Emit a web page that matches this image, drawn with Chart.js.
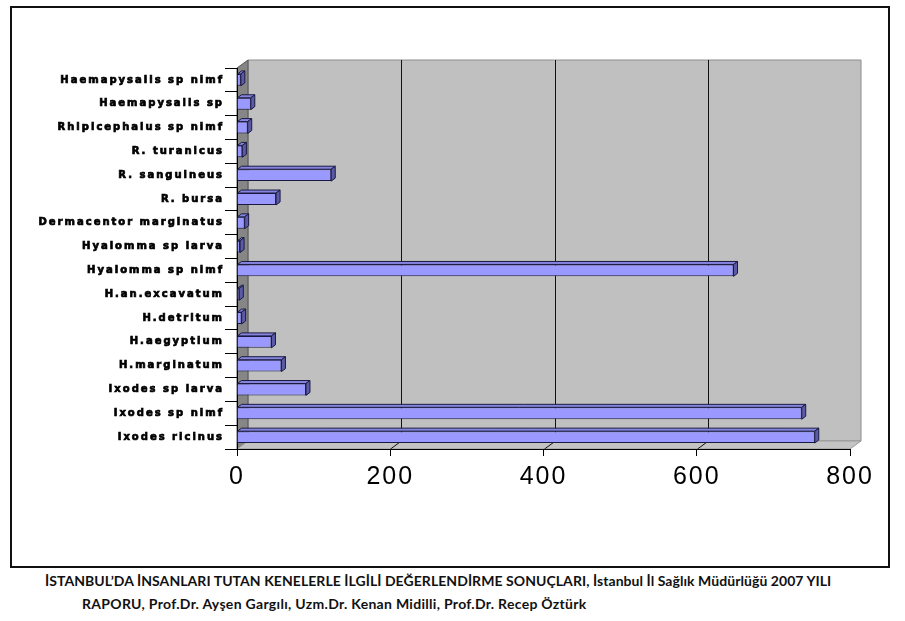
<!DOCTYPE html>
<html>
<head>
<meta charset="utf-8">
<script src="https://cdn.jsdelivr.net/npm/chart.js@4.4.1/dist/chart.umd.min.js"></script>
<style>
  html, body { margin:0; padding:0; background:#fff; }
  body { width:905px; height:621px; position:relative; overflow:hidden; }
  #frame { position:absolute; left:10px; top:6px; width:876px; height:558px; border:2px solid #111; }
  #frame canvas { display:block; }
  .cap { position:absolute; font-family:Lato, 'Open Sans', sans-serif; font-weight:bold; font-size:14px; color:#111; white-space:nowrap; line-height:23px; }
  #cap1 { left:45px; top:569px; letter-spacing:0.06px; }
  #cap2 { left:82px; top:592px; letter-spacing:0.3px; }
</style>
</head>
<body>
<div id="frame"><canvas id="tickChart" width="876" height="558"></canvas></div>
<div class="cap" id="cap1">İSTANBUL’DA İNSANLARI TUTAN KENELERLE İLGİLİ DEĞERLENDİRME SONUÇLARI, İstanbul İl Sağlık Müdürlüğü 2007 YILI</div>
<div class="cap" id="cap2">RAPORU, Prof.Dr. Ayşen Gargılı, Uzm.Dr. Kenan Midilli, Prof.Dr. Recep Öztürk</div>

<script>
/* tick species counts - 3d style horizontal bars */

const SPECIES = [
  'Haemapysalis sp nimf',
  'Haemapysalis sp',
  'Rhipicephalus sp nimf',
  'R. turanicus',
  'R. sanguineus',
  'R. bursa',
  'Dermacentor marginatus',
  'Hyalomma sp larva',
  'Hyalomma sp nimf',
  'H.an.excavatum',
  'H.detritum',
  'H.aegyptium',
  'H.marginatum',
  'Ixodes sp larva',
  'Ixodes sp nimf',
  'Ixodes ricinus'
];

const COUNTS = [5, 18, 14, 7, 123, 51, 10, 4, 648, 3, 6, 45, 58, 90, 737, 754];

const X_MIN  = 0;
const X_MAX  = 800;
const X_STEP = 200;

// depth of the wall and of each bar
const WALL_DX = 11, WALL_DY = 8;
const BAR_DX  = 4,  BAR_DY  = 3;

function poly(ctx, pts, fill, stroke) {
  ctx.beginPath();
  ctx.moveTo(pts[0][0], pts[0][1]);
  for (let i = 1; i < pts.length; i++) ctx.lineTo(pts[i][0], pts[i][1]);
  ctx.closePath();
  if (fill)   { ctx.fillStyle = fill; ctx.fill(); }
  if (stroke) { ctx.strokeStyle = stroke; ctx.lineWidth = 1; ctx.stroke(); }
}

const wall3d = {
  id: 'wall3d',
  beforeDraw(chart) {
    const { ctx, chartArea: a, scales: { x } } = chart;
    ctx.save();
    // back wall
    poly(ctx, [[a.left+WALL_DX, a.top-WALL_DY], [a.right+WALL_DX, a.top-WALL_DY],
               [a.right+WALL_DX, a.bottom-WALL_DY], [a.left+WALL_DX, a.bottom-WALL_DY]], '#c0c0c0', '#8c8c8c');
    // side wall
    poly(ctx, [[a.left, a.top], [a.left+WALL_DX, a.top-WALL_DY],
               [a.left+WALL_DX, a.bottom-WALL_DY], [a.left, a.bottom]], '#868686', '#555');
    // floor
    poly(ctx, [[a.left, a.bottom], [a.left+WALL_DX, a.bottom-WALL_DY],
               [a.right+WALL_DX, a.bottom-WALL_DY], [a.right, a.bottom]], '#c4c4c4', '#9a9a9a');
    // gridlines on wall and floor
    ctx.strokeStyle = '#111';
    ctx.lineWidth = 1;
    for (let v = X_MIN + X_STEP; v < X_MAX; v += X_STEP) {
      const px = Math.round(x.getPixelForValue(v)) + 0.5;
      ctx.beginPath();
      ctx.moveTo(px + WALL_DX, a.top - WALL_DY);
      ctx.lineTo(px + WALL_DX, a.bottom - WALL_DY);
      ctx.moveTo(px + WALL_DX, a.bottom - WALL_DY);
      ctx.lineTo(px, a.bottom);
      ctx.stroke();
    }
    ctx.restore();
    // value labels are a bit stretched in the original
    ctx.letterSpacing = '2px';
  },
  beforeDatasetsDraw(chart) {
    chart.ctx.letterSpacing = '0px';
  },
  afterDatasetsDraw(chart) {
    const ctx  = chart.ctx;
    const meta = chart.getDatasetMeta(0);
    ctx.save();
    meta.data.forEach(bar => {
      const p  = bar.getProps(['x', 'y', 'base', 'height'], true);
      const x0 = p.base, x1 = p.x;
      const y0 = p.y - p.height / 2, y1 = p.y + p.height / 2;
      poly(ctx, [[x0, y0], [x0+BAR_DX, y0-BAR_DY], [x1+BAR_DX, y0-BAR_DY], [x1, y0]], '#8585e0', '#1a1a40');
      poly(ctx, [[x1, y0], [x1+BAR_DX, y0-BAR_DY], [x1+BAR_DX, y1-BAR_DY], [x1, y1]], '#5a5aa6', '#1a1a40');
    });
    ctx.restore();
    // spaced-out category labels (drawn in the z=1 layer right after this)
    ctx.letterSpacing = '2px';
  },
  afterDraw(chart) {
    chart.ctx.letterSpacing = '0px';
  }
};

new Chart(document.getElementById('tickChart'), {
  type: 'bar',
  data: {
    labels: SPECIES,
    datasets: [{
      data: COUNTS,
      backgroundColor: '#9999ff',
      borderColor: '#1a1a40',
      borderWidth: 1,
      barPercentage: 0.5,
      categoryPercentage: 1
    }]
  },
  options: {
    indexAxis: 'y',
    responsive: false,
    animation: false,
    layout: { padding: { top: 60, right: 38, bottom: 67, left: 0 } },
    plugins: { legend: { display: false }, tooltip: { enabled: false } },
    scales: {
      x: {
        min: X_MIN, max: X_MAX,
        afterFit: s => { s.height = 50; },
        ticks: { stepSize: X_STEP, color: '#000', padding: 6, font: { family: 'Liberation Sans', size: 25 } },
        grid: { drawOnChartArea: false, drawTicks: true, tickLength: 7, color: '#000' },
        border: { color: '#000', width: 1 }
      },
      y: {
        afterFit: s => { s.width = 225; },
        ticks: { z: 1, color: '#000', padding: 1, autoSkip: false, textStrokeColor: '#000', textStrokeWidth: 0.7,
                 font: { family: 'DejaVu Sans', size: 10, weight: 'bold' } },
        grid: { drawOnChartArea: false, drawTicks: true, tickLength: 12, color: '#000' },
        border: { color: '#000', width: 1 }
      }
    }
  },
  plugins: [wall3d]
});
</script>
</body>
</html>
